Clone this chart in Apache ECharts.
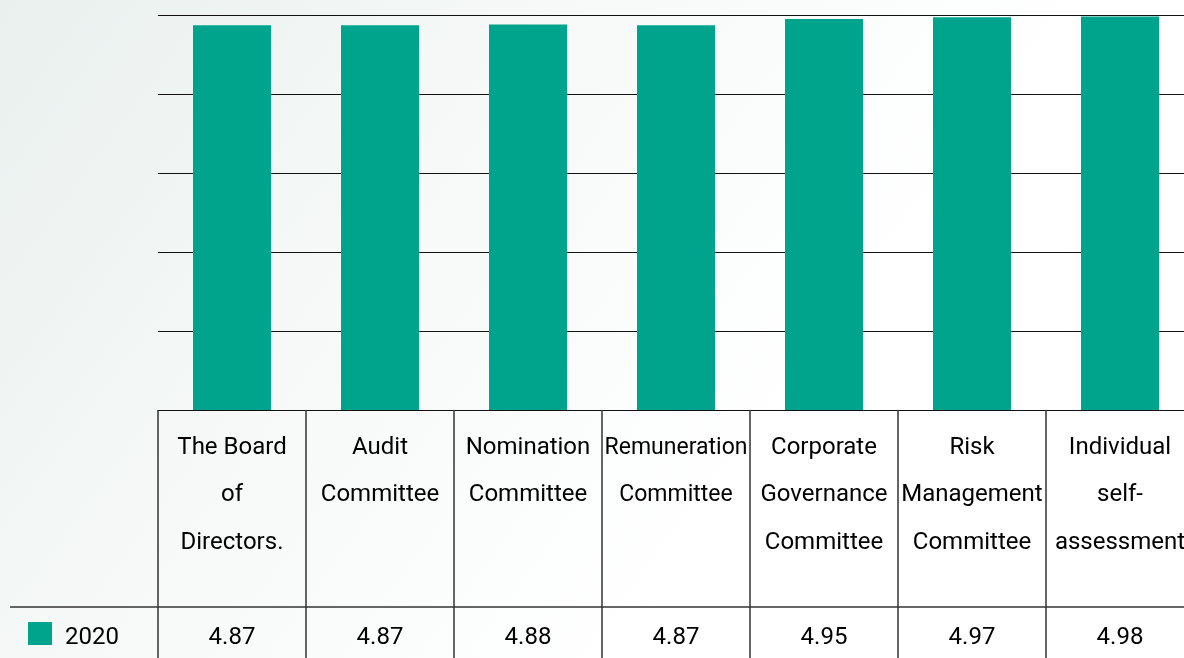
<!DOCTYPE html>
<html>
<head>
<meta charset="utf-8">
<script src="https://cdn.jsdelivr.net/npm/echarts@6/dist/echarts.min.js"></script>
<style>
  html, body { margin: 0; padding: 0; background: #fff; overflow: hidden; }
  #chart { width: 1194px; height: 658px; }
</style>
</head>
<body>
<div id="chart"></div>
<script>
// data
const categories = [
  'The Board\nof\nDirectors.',
  'Audit\nCommittee',
  'Nomination\nCommittee',
  'Remuneration\nCommittee',
  'Corporate\nGovernance\nCommittee',
  'Risk\nManagement\nCommittee',
  'Individual\nself-\nassessment'
]
const seriesName = '2020'
const scores = [4.87, 4.87, 4.88, 4.87, 4.95, 4.97, 4.98]

const FONT = "'Liberation Sans Narrow', 'Arial Narrow', Roboto, sans-serif"
const TEAL = '#00a48c'

const chart = echarts.init(document.getElementById('chart'))

const option = {
  backgroundColor: {
    type: 'linear', x: 0, y: 0, x2: 0.6, y2: 0.8,
    colorStops: [
      { offset: 0, color: '#e9f0ee' },
      { offset: 0.5, color: '#f6f9f8' },
      { offset: 1, color: '#ffffff' }
    ]
  },
  animation: false,
  grid: { left: 158, right: 0, top: 15, bottom: 248, containLabel: false },
  legend: {
    data: [seriesName],
    left: 28,
    top: 622,
    padding: 0,
    icon: 'rect',
    itemWidth: 24,
    itemHeight: 23,
    itemStyle: { borderWidth: 0 },
    formatter: (name) => '{t|' + name + '}',
    textStyle: {
      fontFamily: FONT, fontSize: 24, color: '#000',
      rich: { t: { fontFamily: FONT, fontSize: 24, color: '#000', padding: [8, 0, 0, 8] } }
    }
  },
  xAxis: [
    {
      type: 'category',
      data: categories,
      axisLine: { show: true, lineStyle: { color: '#111', width: 1 } },
      axisTick: { show: true, inside: false, length: 248, lineStyle: { color: '#333', width: 1.5 } },
      axisLabel: {
        interval: 0,
        margin: 14,
        fontFamily: FONT,
        fontSize: 24,
        lineHeight: 47.5,
        color: '#000',
        verticalAlign: 'top',
        formatter: (v) => v.indexOf('Remuneration') === 0 ? '{n|' + v.split('\n').join('}\n{n|') + '}' : v,
        rich: { n: { fontFamily: FONT, fontSize: 23, lineHeight: 47.5, color: '#000' } }
      }
    },
    {
      type: 'category',
      data: categories,
      position: 'bottom',
      offset: 0,
      axisLine: { show: false },
      axisTick: { show: false },
      axisLabel: {
        interval: 0,
        margin: 228,
        fontFamily: FONT,
        fontSize: 24,
        color: '#000',
        verticalAlign: 'middle',
        formatter: (v, i) => scores[i].toFixed(2)
      }
    }
  ],
  yAxis: {
    type: 'value',
    min: 0,
    max: 5,
    interval: 1,
    axisLine: { show: false },
    axisTick: { show: false },
    axisLabel: { show: false },
    splitLine: { lineStyle: { color: '#111', width: 1 } }
  },
  graphic: [
    {
      type: 'line',
      shape: { x1: 10, y1: 607, x2: 1194, y2: 607 },
      style: { stroke: '#333', lineWidth: 1.5 }
    }
  ],
  series: [
    {
      name: seriesName,
      type: 'bar',
      data: scores,
      barWidth: 78,
      itemStyle: { color: TEAL }
    }
  ]
}

chart.setOption(option)
</script>
</body>
</html>
